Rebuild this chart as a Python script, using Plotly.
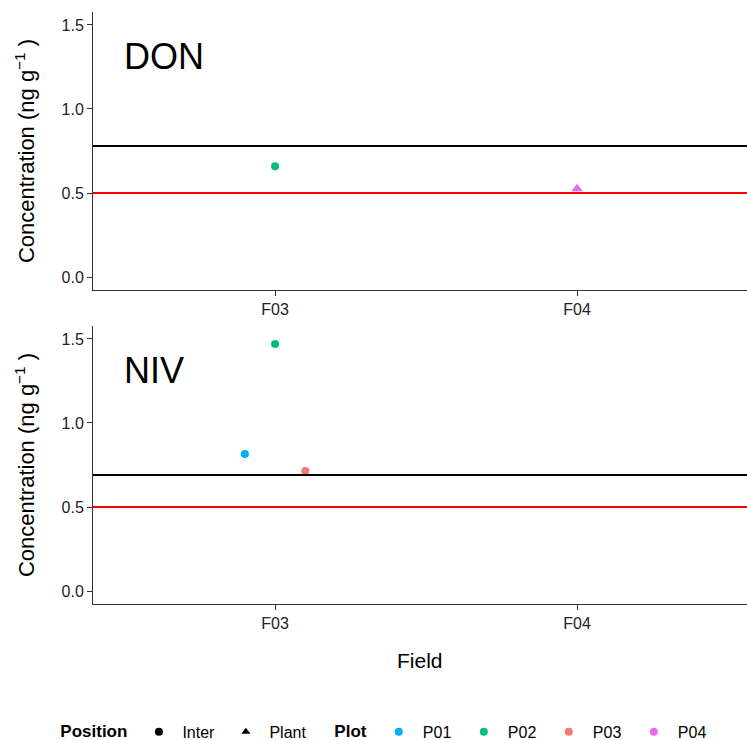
import plotly.graph_objects as go

# ---- data ----
panels = ["DON", "NIV"]
fields = ["F03", "F04"]
pt_panel = ["DON", "DON", "NIV", "NIV", "NIV"]
pt_field = ["F03", "F04", "F03", "F03", "F03"]
pt_plot = ["P02", "P04", "P01", "P02", "P03"]
pt_position = ["Inter", "Plant", "Inter", "Inter", "Inter"]
pt_conc = [0.66, 0.525, 0.815, 1.47, 0.715]
ref_black = {"DON": 0.78, "NIV": 0.69}
ref_red = {"DON": 0.5, "NIV": 0.5}
plots = ["P01", "P02", "P03", "P04"]
positions = ["Inter", "Plant"]
y_ticks = [0.0, 0.5, 1.0, 1.5]

# ---- styles ----
colors = {"P01": "#00B0F6", "P02": "#00BF7D", "P03": "#F8766D", "P04": "#E76BF3"}
symbols = {"Inter": "circle", "Plant": "triangle-up"}
FONT = "Liberation Sans, Arial, sans-serif"
dodge_step = 0.1

# dodge positions within each panel/field group
xpos = []
for i in range(len(pt_conc)):
    grp = [j for j in range(len(pt_conc)) if pt_panel[j] == pt_panel[i] and pt_field[j] == pt_field[i]]
    grp_sorted = sorted(grp, key=lambda j: pt_plot[j])
    r = grp_sorted.index(i)
    base = fields.index(pt_field[i]) + 1
    xpos.append(base + (r - (len(grp) - 1) / 2) * dodge_step)

fig = go.Figure()
axis_map = {"DON": ("x", "y"), "NIV": ("x2", "y2")}

for i in range(len(pt_conc)):
    xa, ya = axis_map[pt_panel[i]]
    fig.add_trace(go.Scatter(
        x=[xpos[i]], y=[pt_conc[i]], mode="markers", xaxis=xa, yaxis=ya,
        marker=dict(color=colors[pt_plot[i]], symbol=symbols[pt_position[i]],
                    size=8 if pt_position[i] == "Inter" else 10, line=dict(width=0)),
        showlegend=False, hoverinfo="skip"))

# legend entries
for p in positions:
    fig.add_trace(go.Scatter(x=[None], y=[None], mode="markers", name=p,
                             marker=dict(color="black", symbol=symbols[p], size=8),
                             legend="legend"))
for p in plots:
    fig.add_trace(go.Scatter(x=[None], y=[None], mode="markers", name=p,
                             marker=dict(color=colors[p], symbol="circle", size=8),
                             legend="legend2"))

shapes = []
annotations = []
for pn in panels:
    xa, ya = axis_map[pn]
    shapes.append(dict(type="line", xref=f"{xa} domain", yref=ya, x0=0, x1=1,
                       y0=ref_black[pn], y1=ref_black[pn], line=dict(color="black", width=2)))
    shapes.append(dict(type="line", xref=f"{xa} domain", yref=ya, x0=0, x1=1,
                       y0=ref_red[pn], y1=ref_red[pn], line=dict(color="#FF0000", width=2)))
    annotations.append(dict(text=pn, xref=f"{xa} domain", yref=f"{ya} domain",
                            x=0.045, y=0.84, xanchor="left", yanchor="middle",
                            showarrow=False, font=dict(size=36, color="black", family=FONT)))

annotations.append(dict(text="Field", xref="paper", yref="paper", x=0.5, y=-0.095,
                        xanchor="center", yanchor="middle", showarrow=False,
                        font=dict(size=21, color="black", family=FONT)))

xcommon = dict(range=[0.397, 2.563], tickvals=[1, 2], ticktext=fields, showline=True,
               linecolor="#333333", linewidth=1, ticks="outside", ticklen=5, tickcolor="#333333",
               showgrid=False, zeroline=False, tickfont=dict(size=16, color="#222222", family=FONT))
ycommon = dict(range=[-0.077, 1.577], tickvals=y_ticks, ticktext=[f"{v:.1f}" for v in y_ticks],
               showline=True, linecolor="#333333", linewidth=1, ticks="outside", ticklen=5,
               tickcolor="#333333", showgrid=False, zeroline=False,
               tickfont=dict(size=16, color="#222222", family=FONT),
               title=dict(text="Concentration (ng g<sup>\u22121</sup> )",
                          font=dict(size=22, color="black", family=FONT), standoff=20))

fig.update_layout(
    width=747, height=740,
    margin=dict(l=93, r=0, t=12, b=136, autoexpand=False),
    plot_bgcolor="white", paper_bgcolor="white",
    font=dict(family=FONT, color="black"),
    xaxis=dict(domain=[0, 1], anchor="y", **xcommon),
    yaxis=dict(domain=[0.5304, 1], anchor="x", **ycommon),
    xaxis2=dict(domain=[0, 1], anchor="y2", **xcommon),
    yaxis2=dict(domain=[0, 0.4696], anchor="x2", **ycommon),
    shapes=shapes, annotations=annotations,
    legend=dict(orientation="h", x=-0.053, y=-0.216, xanchor="left", yanchor="middle",
                itemwidth=37, entrywidth=35,
                title=dict(text="<b>Position</b>", side="left", font=dict(size=17, family=FONT)),
                font=dict(size=16, family=FONT), bgcolor="rgba(0,0,0,0)"),
    legend2=dict(orientation="h", x=0.366, y=-0.216, xanchor="left", yanchor="middle",
                 itemwidth=38, entrywidth=32,
                 title=dict(text="<b>Plot</b>", side="left", font=dict(size=17, family=FONT)),
                 font=dict(size=16, family=FONT), bgcolor="rgba(0,0,0,0)"),
)

fig.write_html("out.html", post_script="document.body.style.margin='0';",
               config={"displayModeBar": False})
